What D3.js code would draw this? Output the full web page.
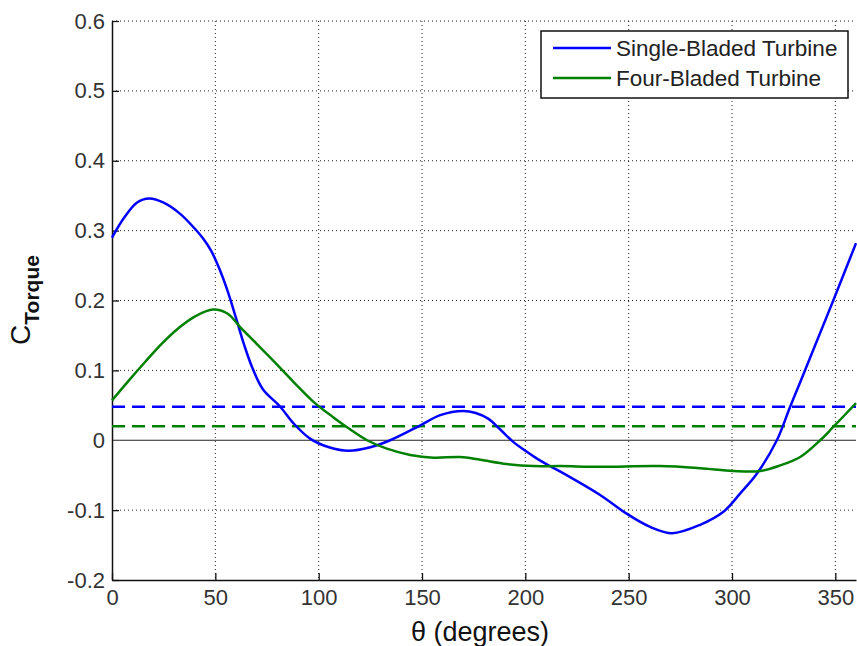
<!DOCTYPE html>
<html>
<head>
<meta charset="utf-8">
<script src="https://cdn.jsdelivr.net/npm/d3@7"></script>
<style>
  body { margin: 0; background: #fff; }
  svg { font-family: "Liberation Sans", Arial, sans-serif; }
</style>
</head>
<body>
<div id="chart"></div>
<script>
var thetaSingle = [0, 6, 12, 18, 25, 33, 40, 44, 48, 52, 56, 60, 64, 68, 73, 81.4, 87.9, 96, 105, 114.5, 125, 134.6, 149, 158.8, 170, 176, 182, 188, 194, 200, 206, 212, 220, 236, 249, 260.4, 271, 284.6, 296, 304, 312, 321.7, 328, 333, 339.4, 349, 360];
var ctSingle = [0.29, 0.319, 0.34, 0.346, 0.34, 0.324, 0.303, 0.289, 0.271, 0.245, 0.213, 0.175, 0.136, 0.103, 0.073, 0.048, 0.024, 0.002, -0.01, -0.015, -0.01, 0, 0.021, 0.036, 0.042, 0.039, 0.031, 0.015, -0.002, -0.015, -0.027, -0.037, -0.05, -0.078, -0.105, -0.124, -0.133, -0.121, -0.102, -0.076, -0.048, 0, 0.047, 0.083, 0.13, 0.2, 0.282];

var thetaFour = [0, 8, 16, 24, 32, 40, 49, 56, 62, 70, 78, 88, 97.5, 107, 115, 123.4, 133, 144.3, 155.6, 168.5, 178.2, 191, 204, 217, 236, 265, 284.6, 300.7, 313.6, 323.3, 333, 342.7, 349, 360];
var ctFour = [0.057, 0.085, 0.112, 0.138, 0.16, 0.177, 0.187, 0.181, 0.162, 0.138, 0.114, 0.083, 0.055, 0.033, 0.016, 0, -0.012, -0.021, -0.025, -0.024, -0.028, -0.034, -0.037, -0.037, -0.038, -0.037, -0.040, -0.044, -0.044, -0.036, -0.024, 0, 0.019, 0.053];

var meanSingle = 0.048;
var meanFour = 0.02;

var seriesNames = ["Single-Bladed Turbine", "Four-Bladed Turbine"];
var seriesColors = ["#0000ff", "#008000"];

var xTicks = [0, 50, 100, 150, 200, 250, 300, 350];
var yTicks = [-0.2, -0.1, 0, 0.1, 0.2, 0.3, 0.4, 0.5, 0.6];

// set the dimensions and margins of the graph
var margin = {top: 21, right: 1, bottom: 66, left: 112},
  width = 857 - margin.left - margin.right,
  height = 646 - margin.top - margin.bottom;

var svg = d3.select("#chart")
.append("svg")
  .attr("width", 857)
  .attr("height", 646)
.append("g")
  .attr("transform", "translate(" + margin.left + "," + margin.top + ")");

var x = d3.scaleLinear().domain([0, 360]).range([0, width]);
var y = d3.scaleLinear().domain([-0.2, 0.6]).range([height, 0]);

// dotted grid
svg.selectAll(".vgrid")
  .data(xTicks.filter(function(d) { return d > 0; }))
  .enter().append("line")
    .attr("x1", function(d) { return x(d); })
    .attr("x2", function(d) { return x(d); })
    .attr("y1", 0).attr("y2", height)
    .style("stroke", "#222")
    .style("stroke-width", 1)
    .style("stroke-dasharray", "1,3");

svg.selectAll(".hgrid")
  .data(yTicks.filter(function(d) { return d > -0.2 && d !== 0; }))
  .enter().append("line")
    .attr("x1", 0).attr("x2", width)
    .attr("y1", function(d) { return y(d); })
    .attr("y2", function(d) { return y(d); })
    .style("stroke", "#222")
    .style("stroke-width", 1)
    .style("stroke-dasharray", "1,3");

// zero line
svg.append("line")
  .attr("x1", 0).attr("x2", width)
  .attr("y1", y(0)).attr("y2", y(0))
  .style("stroke", "#222")
  .style("stroke-width", 1.2);

// axes (inward ticks like matlab), plain hyphen for minus
var fmtY = function(d) { return d === 0 ? "0" : d3.format(".1f")(d).replace("\u2212", "-"); };

var xAxis = svg.append("g")
  .attr("transform", "translate(0," + height + ")")
  .call(d3.axisBottom(x).tickValues(xTicks).tickSizeInner(-7).tickSizeOuter(0).tickPadding(9).tickFormat(d3.format("d")));

var yAxis = svg.append("g")
  .call(d3.axisLeft(y).tickValues(yTicks).tickSizeInner(-7).tickSizeOuter(0).tickPadding(7).tickFormat(fmtY));

[xAxis, yAxis].forEach(function(a) {
  a.select(".domain").style("stroke", "#111").style("stroke-width", 1.5);
  a.selectAll(".tick line").style("stroke", "#111").style("stroke-width", 1.3);
  a.selectAll(".tick text")
    .style("font-size", "22px")
    .style("fill", "#333")
    .style("font-family", "'Liberation Sans', Arial, sans-serif");
});
yAxis.selectAll(".tick").filter(function(d) { return d === 0; }).select("line").remove();

// mean lines
[meanSingle, meanFour].forEach(function(m, i) {
  svg.append("line")
    .attr("x1", x(0)).attr("x2", x(360))
    .attr("y1", y(m)).attr("y2", y(m))
    .style("stroke", seriesColors[i])
    .style("stroke-width", 2.5)
    .style("stroke-dasharray", "13,7");
});

// curves
var line = d3.line()
  .x(function(d) { return x(d[0]); })
  .y(function(d) { return y(d[1]); })
  .curve(d3.curveCatmullRom.alpha(0.5));

var singleData = thetaSingle.map(function(t, i) { return [t, ctSingle[i]]; });
var fourData = thetaFour.map(function(t, i) { return [t, ctFour[i]]; });

[singleData, fourData].forEach(function(dat, i) {
  svg.append("path")
    .datum(dat)
    .attr("d", line)
    .style("fill", "none")
    .style("stroke", seriesColors[i])
    .style("stroke-width", 2.5);
});

// legend
var lg = svg.append("g").attr("transform", "translate(" + (541 - margin.left) + "," + (31 - margin.top) + ")");
lg.append("rect")
  .attr("width", 307).attr("height", 67)
  .style("fill", "#fff")
  .style("stroke", "#111")
  .style("stroke-width", 1.5);
seriesNames.forEach(function(name, i) {
  var yy = 17 + i * 30;
  lg.append("line")
    .attr("x1", 12).attr("x2", 70)
    .attr("y1", yy).attr("y2", yy)
    .style("stroke", seriesColors[i])
    .style("stroke-width", 2.5);
  lg.append("text")
    .attr("x", 75).attr("y", yy + 8)
    .style("font-size", "22.5px")
    .style("fill", "#222")
    .text(name);
});

// axis titles
svg.append("text")
  .attr("x", width / 2 - 4)
  .attr("y", height + 61)
  .style("text-anchor", "middle")
  .style("font-size", "27px")
  .style("fill", "#111")
  .text("θ (degrees)");

var yl = svg.append("text")
  .attr("transform", "translate(" + (30 - margin.left) + "," + (300 - margin.top) + ") rotate(-90)")
  .style("text-anchor", "middle")
  .style("fill", "#111");
yl.append("tspan").style("font-size", "28px").text("C");
yl.append("tspan").attr("dy", 9).style("font-size", "21px").style("font-weight", "bold").text("Torque");
</script>
</body>
</html>
